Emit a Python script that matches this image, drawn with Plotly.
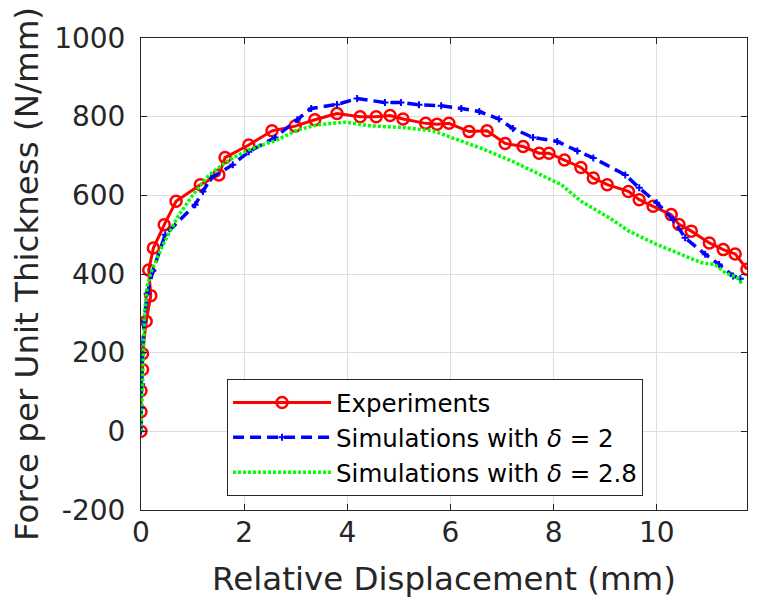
import plotly.graph_objects as go

# Experiments
x_exp = [0, 0, 0, 0.03, 0.03, 0.1, 0.19, 0.15, 0.24, 0.45, 0.68, 1.15, 1.51, 1.63, 2.09, 2.54,
         2.99, 3.37, 3.80, 4.25, 4.56, 4.83, 5.08, 5.52, 5.74, 5.97, 6.36, 6.71, 7.06, 7.41,
         7.72, 7.91, 8.21, 8.53, 8.77, 9.04, 9.45, 9.66, 9.93, 10.28, 10.43, 10.67, 11.02,
         11.29, 11.52, 11.75]
y_exp = [0, 50, 103, 157, 197, 280, 345, 410, 466, 525, 585, 627, 652, 696, 728, 764,
         776, 792, 808, 800, 800, 803, 794, 783, 781, 783, 762, 764, 732, 724,
         707, 707, 690, 671, 644, 627, 610, 589, 572, 551, 526, 509, 479,
         462, 451, 412]

# Simulations with delta = 2
x_sim2 = [0, 0, 0.01, 0.03, 0.06, 0.12, 0.23, 0.47, 1.05, 1.2, 1.36, 1.78, 2.09, 2.6, 3.03,
          3.3, 3.8, 4.19, 4.73, 5.04, 5.39, 5.82, 6.21, 6.56, 6.94, 7.21, 7.6, 8.07, 8.46,
          8.77, 9.39, 9.66, 10.0, 10.32, 10.55, 10.94, 11.21, 11.48, 11.62]
y_sim2 = [0, 60, 120, 200, 280, 350, 408, 500, 576, 610, 644, 678, 711, 747, 792,
          821, 831, 846, 836, 836, 830, 828, 821, 813, 794, 770, 747, 737, 713,
          695, 652, 619, 581, 538, 492, 450, 424, 395, 388]

# Simulations with delta = 2.8
x_sim28 = [0, 0.02, 0.04, 0.07, 0.12, 0.19, 0.43, 0.70, 1.01, 1.32, 1.71, 2.09, 2.64, 3.03,
           3.41, 3.96, 4.42, 5.12, 5.66, 6.13, 6.59, 7.21, 7.76, 8.15, 8.53, 9.08, 9.46,
           10.0, 10.47, 10.86, 11.13, 11.33, 11.56, 11.65]
y_sim28 = [0, 100, 200, 300, 370, 403, 475, 543, 602, 652, 690, 716, 741, 766,
           779, 786, 777, 772, 764, 741, 720, 686, 652, 627, 585, 543, 509,
           475, 450, 429, 424, 403, 391, 375]

x_ticks = [0, 2, 4, 6, 8, 10]
y_ticks = [-200, 0, 200, 400, 600, 800, 1000]
y_tick_labels = ["-200", "0", "200", "400", "600", "800", "1000"]

FONT = "DejaVu Sans"
TXT = "#262626"

fig = go.Figure()
fig.add_trace(go.Scatter(
    x=x_exp, y=y_exp, name="Experiments", mode="lines+markers",
    line=dict(color="#ff0000", width=3),
    marker=dict(symbol="circle-open", size=11, color="#ff0000", line=dict(width=2.5, color="#ff0000")),
))
fig.add_trace(go.Scatter(
    x=x_sim2, y=y_sim2, name="Simulations with <i>δ</i> = 2", mode="lines+markers",
    line=dict(color="#0000ff", width=3.5, dash="11px,6px"),
    marker=dict(symbol="cross-thin", size=5, color="#0000ff", line=dict(width=2, color="#0000ff")),
))
fig.add_trace(go.Scatter(
    x=x_sim28, y=y_sim28, name="Simulations with <i>δ</i> = 2.8", mode="lines",
    line=dict(color="#00ff00", width=3.5, dash="3px,2px"),
))

axis_common = dict(
    showgrid=True, gridcolor="#dedede", gridwidth=1,
    showline=True, linecolor=TXT, linewidth=1, mirror="ticks",
    ticks="inside", ticklen=6, tickcolor=TXT, tickwidth=1,
    zeroline=False,
    tickfont=dict(family=FONT, size=28, color=TXT),
)

fig.update_layout(
    width=749, height=590,
    margin=dict(l=133, r=10, t=30, b=88, autoexpand=False),
    paper_bgcolor="white", plot_bgcolor="white",
    font=dict(family=FONT, color=TXT),
    xaxis=dict(range=[0, 11.75], tickvals=x_ticks, ticklabelstandoff=-3, **axis_common,
               title=dict(text="Relative Displacement (mm)", font=dict(family=FONT, size=32.5, color=TXT), standoff=20)),
    yaxis=dict(range=[-200, 1000], tickvals=y_ticks, ticktext=y_tick_labels, ticklabelstandoff=9,
               **axis_common,
               title=dict(text="Force per Unit Thickness (N/mm)", font=dict(family=FONT, size=32.5, color=TXT), standoff=6)),
    legend=dict(x=0.142, y=0.2775, xanchor="left", yanchor="top",
                bgcolor="white", bordercolor="#262626", borderwidth=1,
                font=dict(family=FONT, size=24.5, color="black"),
                itemwidth=98, tracegroupgap=0),
    showlegend=True,
)

fig.write_html("out.html")
